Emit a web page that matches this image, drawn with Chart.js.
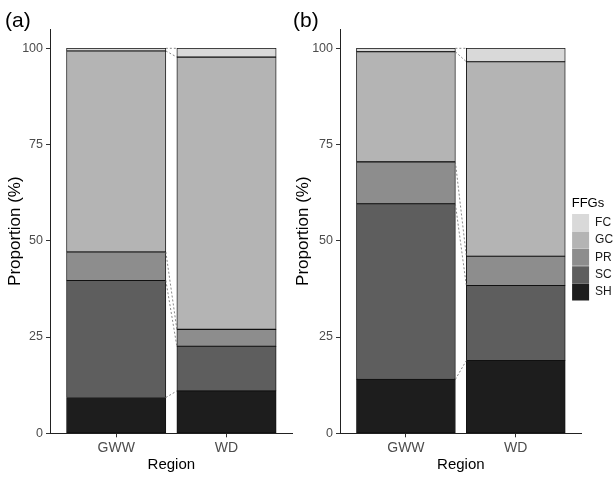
<!DOCTYPE html>
<html>
<head>
<meta charset="utf-8">
<script src="https://cdn.jsdelivr.net/npm/chart.js@4.4.0/dist/chart.umd.min.js"></script>
<style>
  body { margin: 0; background: #fff; }
  .panel { position: absolute; top: 0; }
  #panelA { left: 0; }
  #panelB { left: 290px; }
</style>
</head>
<body>
<div class="panel" id="panelA"><canvas id="chartA" width="300" height="478"></canvas></div>
<div class="panel" id="panelB"><canvas id="chartB" width="324" height="478"></canvas></div>
<script>
// categories / groups
var regions = ["GWW", "WD"];
var ffgs = ["SH", "SC", "PR", "GC", "FC"];
var ffgColours = ["#1d1d1d", "#5e5e5e", "#8d8d8d", "#b4b4b4", "#d9d9d9"];
var yTicks = [0, 25, 50, 75, 100];

// panel (a) - proportion (%) of each FFG, GWW then WD
var aSH = [9.3, 11.0];
var aSC = [30.4, 11.6];
var aPR = [7.4, 4.4];
var aGC = [52.2, 70.7];
var aFC = [0.7, 2.3];

// panel (b)
var bSH = [14.0, 18.9];
var bSC = [45.6, 19.5];
var bPR = [10.9, 7.6];
var bGC = [28.6, 50.5];
var bFC = [0.9, 3.5];

Chart.defaults.font.family = "'Liberation Sans', Arial, sans-serif";
Chart.defaults.color = "#4d4d4d";

// dashed lines joining the segment tops of neighbouring bars
var connectorPlugin = {
    id: 'connectors',
    afterDatasetsDraw: function(chart, args, opts) {
        var ctx = chart.ctx;
        ctx.save();
        ctx.strokeStyle = opts.color;
        ctx.lineWidth = opts.width;
        ctx.setLineDash(opts.dash);
        chart.data.datasets.forEach(function(ds, i) {
            var bars = chart.getDatasetMeta(i).data;
            for (var j = 0; j < bars.length - 1; j++) {
                var a = bars[j], b = bars[j + 1];
                ctx.beginPath();
                ctx.moveTo(a.x + a.width / 2, a.y);
                ctx.lineTo(b.x - b.width / 2, b.y);
                ctx.stroke();
            }
        });
        ctx.restore();
    }
};

// ggplot puts its legend a bit into the panel's spare room, so nudge it
var legendNudge = {
    id: 'legendNudge',
    afterLayout: function(chart, args, opts) {
        var lg = chart.legend;
        if (!lg || !lg.options.display) return;
        lg.left += opts.dx;
        lg.top += opts.dy; lg.bottom += opts.dy;
    }
};

function makePanel(id, tag, series, showLegend, padLeft) {
    var datasets = ffgs.map(function(name, k) {
        return {
            label: name,
            data: series[k].map(function(v, i) { return { x: i + 1, y: v }; }),
            backgroundColor: ffgColours[k],
            borderColor: '#111',
            borderWidth: 0.9,
            inflateAmount: 0.35,
            borderSkipped: false,
            barPercentage: 0.9,
            categoryPercentage: 1.0
        };
    });

    var legend = { display: false };
    if (showLegend) {
        legend = {
            display: true,
            position: 'right',
            reverse: true,
            maxWidth: 32.3,
            title: { display: true, text: 'FFGs', position: 'start', color: '#000',
                     font: { size: 13 }, padding: { top: 0, bottom: 1 } },
            labels: {
                boxWidth: 17, boxHeight: 17, padding: 0.4, color: '#1a1a1a',
                font: { size: 12 },
                generateLabels: function(chart) {
                    var items = Chart.defaults.plugins.legend.labels.generateLabels(chart);
                    items.forEach(function(it) { it.lineWidth = 0; });
                    return items;
                }
            }
        };
    }

    return new Chart(document.getElementById(id), {
        type: 'bar',
        data: { datasets: datasets },
        options: {
            responsive: false,
            animation: false,
            layout: { padding: { left: padLeft, right: showLegend ? 0 : 7.3, top: 0, bottom: 0 } },
            plugins: {
                title: { display: true, text: tag, align: 'start', color: '#000',
                         font: { size: 21, weight: 'normal', lineHeight: 1 },
                         padding: { top: 11, bottom: -3 } },
                legend: legend,
                tooltip: { enabled: false },
                connectors: { color: '#6b6b6b', width: 0.8, dash: [2, 2] },
                legendNudge: { dx: -10, dy: 10 }
            },
            scales: {
                x: {
                    type: 'linear', stacked: true, min: 0.4, max: 2.6, offset: false,
                    afterBuildTicks: function(s) {
                        s.ticks = regions.map(function(r, i) { return { value: i + 1 }; });
                    },
                    afterFit: function(s) { s.height = 44.7; },
                    ticks: {
                        callback: function(v) { return regions[v - 1]; },
                        font: { size: 14 }, color: '#4d4d4d', padding: 2,
                        maxRotation: 0, autoSkip: false
                    },
                    grid: { display: true, drawOnChartArea: false, drawTicks: true,
                            tickLength: 4, tickColor: '#333', offset: false },
                    border: { display: true, color: '#222', width: 1 },
                    title: { display: true, text: 'Region', color: '#000',
                             font: { size: 15 }, padding: { top: 0, bottom: 4 } }
                },
                y: {
                    stacked: true, min: 0, max: 105,
                    afterBuildTicks: function(s) {
                        s.ticks = yTicks.map(function(v) { return { value: v }; });
                    },
                    afterFit: function(s) { s.width = 50 - padLeft; },
                    ticks: { font: { size: 12.5 }, color: '#4d4d4d', padding: 3 },
                    grid: { display: true, drawOnChartArea: false, drawTicks: true,
                            tickLength: 4, tickColor: '#333' },
                    border: { display: true, color: '#222', width: 1 },
                    title: { display: true, text: 'Proportion (%)', color: '#000',
                             font: { size: 17 }, padding: { top: 0, bottom: 0 } }
                }
            }
        },
        plugins: [connectorPlugin, legendNudge]
    });
}

var chartA = makePanel('chartA', '(a)', [aSH, aSC, aPR, aGC, aFC], false, 5);
var chartB = makePanel('chartB', '(b)', [bSH, bSC, bPR, bGC, bFC], true, 3);
</script>
</body>
</html>
